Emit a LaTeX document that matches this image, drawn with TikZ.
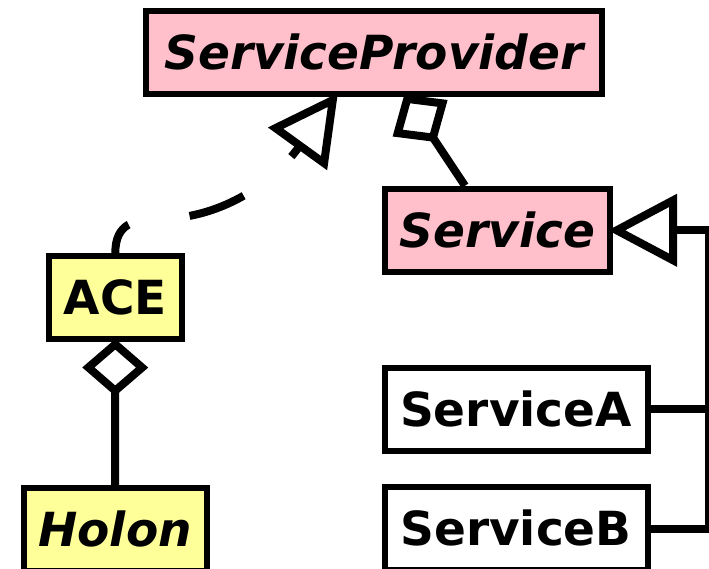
\documentclass[tikz,border=0pt]{standalone}
\usepackage{fontspec}
\setmainfont{DejaVu Sans}
\usetikzlibrary{arrows.meta}
\definecolor{classpink}{HTML}{FFC0CB}
\definecolor{classyellow}{HTML}{FFFF99}

\begin{document}
\begin{tikzpicture}[x=1pt, y=-1pt,
  cls/.style={draw=black, line width=6pt, minimum height=83pt, inner sep=0pt,
    text height=34pt, text depth=0pt, font=\fontsize{47}{56}\selectfont\bfseries},
  abstractcls/.style={cls, font=\fontsize{47}{56}\selectfont\bfseries\itshape},
  edge/.style={line width=8pt},
  realize/.style={edge, -{Triangle[open, length=69pt, width=71pt]}, shorten >=-5pt},
  aggregate/.style={edge, {Diamond[open, length=57pt, width=66pt]}-, shorten <=-3pt},
]
\useasboundingbox (0,0) rectangle (709,569);

% classes
\node[abstractcls, fill=classpink, minimum width=456pt] (provider) at (374,52.5) {ServiceProvider};
\node[abstractcls, fill=classpink, minimum width=225pt] (service) at (497.5,230.3) {Service};
\node[cls, fill=classyellow, minimum width=133pt] (ace) at (115.3,297.5) {ACE};
\node[abstractcls, fill=classyellow, minimum width=183pt] (holon) at (115,529.5) {Holon};
\node[cls, fill=white, minimum width=263pt] (serviceA) at (516,409) {ServiceA};
\node[cls, fill=white, minimum width=263pt] (serviceB) at (516,528.5) {ServiceB};

% generalisation of the concrete services
\coordinate (rail) at (709,0);
\draw[realize] (serviceB.east) -- (serviceB.east -| rail) -- (rail |- service.east) -- (service.east);
\draw[edge] (serviceA.east) -- (serviceA.east -| rail);

% aggregations
\draw[aggregate] (ace.south) -- (holon.north);
\draw[aggregate] (provider.south -| 406,0) -- (service.north -| 465,0);

% ACE realises ServiceProvider
\draw[realize, dash pattern=on 58pt off 62pt, dash phase=25pt]
  (ace.north) .. controls +(0,-30) and (135,219) .. (160,219)
  .. controls (225,218) and (275,180) .. (provider.south -| 335,0);
\end{tikzpicture}
\end{document}
